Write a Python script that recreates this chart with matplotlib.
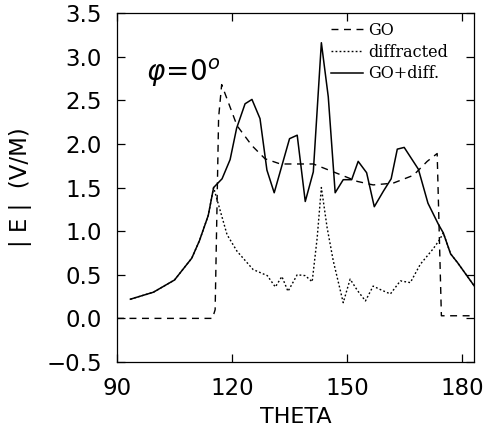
import matplotlib
matplotlib.use('Agg')
import matplotlib.pyplot as plt
from matplotlib import rcParams

rcParams['font.family'] = 'DejaVu Sans'
rcParams['mathtext.fontset'] = 'dejavusans'

# GO+diff. (total field)
theta_total = [93.5, 99.5, 105, 109.5, 111.5, 113.8, 115.2, 117.4, 119.5, 121.2,
               123.4, 125.2, 127.3, 129.1, 131, 135, 137, 139.1, 141.2, 143.3,
               145.1, 146.9, 149, 151.2, 152.9, 155.1, 157.1, 159.5, 161.5, 163.1,
               164.9, 168.6, 171.1, 173.8, 175.1, 177, 178.8, 183.2]
e_total = [0.22, 0.30, 0.44, 0.69, 0.89, 1.18, 1.50, 1.60, 1.82, 2.18,
           2.46, 2.51, 2.29, 1.70, 1.44, 2.06, 2.10, 1.34, 1.68, 3.16,
           2.54, 1.44, 1.59, 1.59, 1.80, 1.67, 1.28, 1.46, 1.60, 1.94,
           1.96, 1.71, 1.32, 1.08, 0.98, 0.74, 0.64, 0.37]

# diffracted field
theta_diff = [93.5, 99.5, 105, 109.5, 111.5, 113.8, 115.2, 118.7, 121.3, 125.5,
              129.2, 131.3, 133, 134.6, 137, 139.1, 140.9, 142.2, 143.3, 144.8,
              146.4, 149, 150.8, 152.7, 154.8, 156.8, 158.7, 161.3, 163.9, 166.5,
              169.1, 172.5, 174.1, 175.1, 177, 178.8, 183.2]
e_diff = [0.22, 0.30, 0.44, 0.69, 0.89, 1.18, 1.50, 0.96, 0.77, 0.56,
          0.49, 0.36, 0.48, 0.31, 0.50, 0.49, 0.42, 0.92, 1.50, 1.04,
          0.66, 0.18, 0.45, 0.32, 0.20, 0.37, 0.33, 0.28, 0.43, 0.41,
          0.62, 0.80, 0.90, 0.98, 0.74, 0.64, 0.37]

# GO field
theta_go = [90, 114.9, 115.6, 116.5, 117.3, 121.3, 125.2, 128.6, 132.6, 141.2,
            146.4, 152.7, 156.8, 162, 167.3, 170.9, 173.5, 174.6, 183.2]
e_go = [0.0, 0.0, 0.1, 2.3, 2.68, 2.21, 1.98, 1.83, 1.77, 1.77,
        1.68, 1.57, 1.53, 1.55, 1.64, 1.80, 1.89, 0.03, 0.03]

fig = plt.figure(figsize=(4.84, 4.34), dpi=100)
ax = fig.add_axes([0.2417, 0.1659, 0.7376, 0.804])

ax.plot(theta_go, e_go, color='black', lw=1.0, ls=(0, (5, 4)), label='GO')
ax.plot(theta_diff, e_diff, color='black', lw=1.0, ls=(0, (1.3, 1.6)),
        label='diffracted')
ax.plot(theta_total, e_total, color='black', lw=1.1, label='GO+diff.')

ax.set_xlim(90, 183.1)
ax.set_ylim(-0.5, 3.5)
ax.set_xticks([90, 120, 150, 180])
ax.set_yticks([-0.5, 0.0, 0.5, 1.0, 1.5, 2.0, 2.5, 3.0, 3.5])
ax.set_yticklabels(['\u22120.5', '0.0', '0.5', '1.0', '1.5', '2.0', '2.5',
                    '3.0', '3.5'])
ax.tick_params(direction='in', length=6, width=0.9, top=True, right=True,
               labelsize=16.5)
ax.tick_params(axis='y', pad=11)
ax.tick_params(axis='x', pad=11)
for s in ax.spines.values():
    s.set_linewidth(0.9)

ax.set_xlabel('THETA', fontsize=16, labelpad=5)
ax.set_ylabel('| E |  (V/M)', fontsize=16.5, labelpad=10)

ax.text(97.5, 2.72, r'$\varphi\!=\!0^o$', fontsize=20)

ax.legend(loc='upper left', bbox_to_anchor=(0.60, 0.975), frameon=False,
          prop={'family': 'DejaVu Serif', 'size': 11.5}, handlelength=2.0,
          handletextpad=0.3, labelspacing=0.3, borderpad=0, borderaxespad=0)

fig.savefig('out.png', dpi=100)
